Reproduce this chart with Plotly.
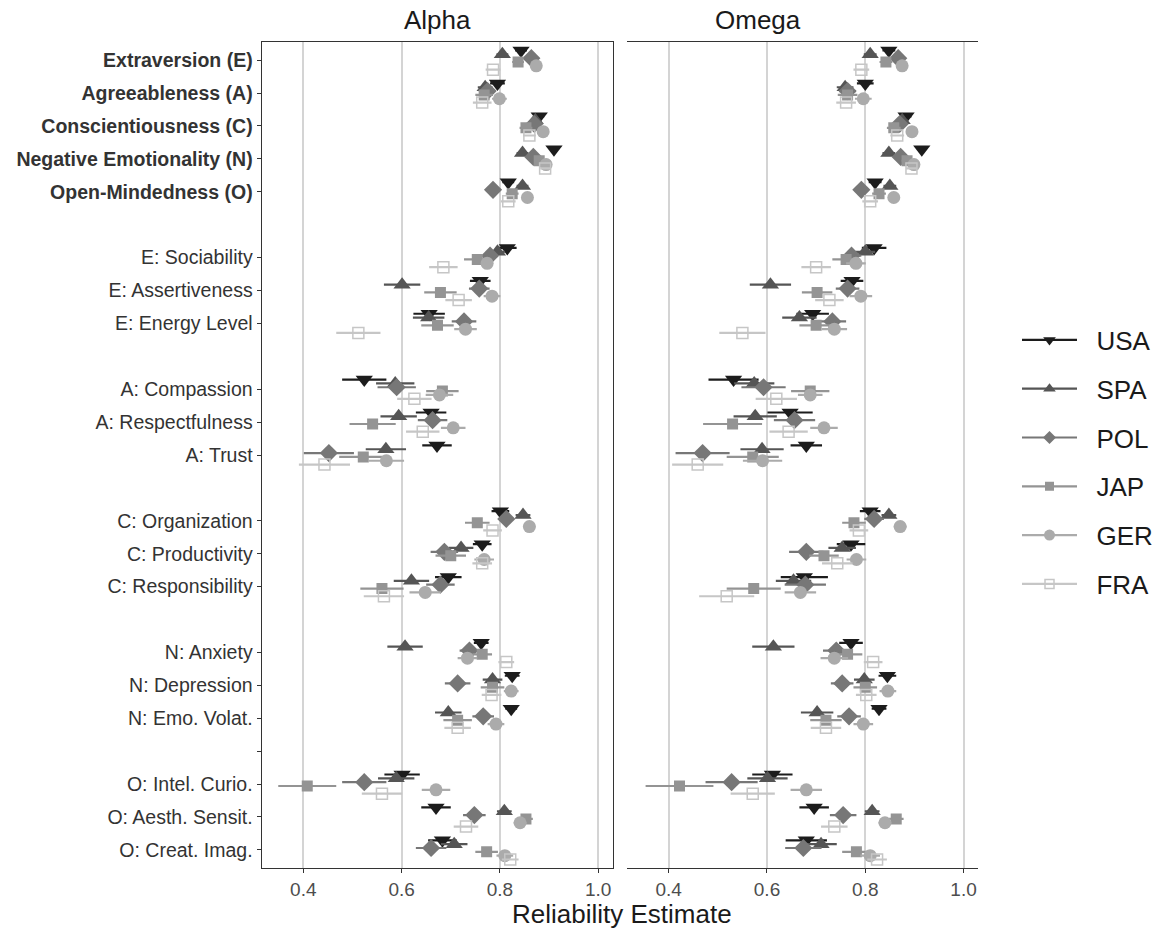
import plotly.graph_objects as go

countries = ["USA", "SPA", "POL", "JAP", "GER", "FRA"]
colors = ["#1c1c1c", "#555555", "#777777", "#949494", "#ababab", "#c6c6c6"]
symbols = ["triangle-down", "triangle-up", "diamond", "square", "circle", "square-open"]
sizes = [15, 15, 14, 11, 13, 11]

domain_labels = ["Extraversion (E)", "Agreeableness (A)", "Conscientiousness (C)",
                 "Negative Emotionality (N)", "Open-Mindedness (O)"]
facet_groups = [
    ["E: Sociability", "E: Assertiveness", "E: Energy Level"],
    ["A: Compassion", "A: Respectfulness", "A: Trust"],
    ["C: Organization", "C: Productivity", "C: Responsibility"],
    ["N: Anxiety", "N: Depression", "N: Emo. Volat."],
    ["O: Intel. Curio.", "O: Aesth. Sensit.", "O: Creat. Imag."],
]

# order of items: 5 domains, then 15 facets
alpha_est = {
    "USA": [0.843, 0.795, 0.880, 0.910, 0.817, 0.815, 0.760, 0.656, 0.524, 0.660, 0.672, 0.801, 0.764, 0.695, 0.762, 0.825, 0.823, 0.601, 0.670, 0.683],
    "SPA": [0.805, 0.770, 0.872, 0.846, 0.846, 0.795, 0.601, 0.655, 0.587, 0.594, 0.568, 0.847, 0.721, 0.620, 0.607, 0.785, 0.695, 0.589, 0.809, 0.707],
    "POL": [0.864, 0.775, 0.870, 0.868, 0.786, 0.780, 0.758, 0.727, 0.590, 0.663, 0.452, 0.813, 0.687, 0.679, 0.738, 0.714, 0.766, 0.524, 0.748, 0.660],
    "JAP": [0.837, 0.768, 0.853, 0.880, 0.825, 0.754, 0.679, 0.673, 0.683, 0.541, 0.522, 0.754, 0.700, 0.560, 0.764, 0.785, 0.714, 0.408, 0.853, 0.773],
    "GER": [0.874, 0.799, 0.888, 0.894, 0.856, 0.774, 0.784, 0.730, 0.677, 0.705, 0.569, 0.860, 0.768, 0.648, 0.734, 0.823, 0.792, 0.670, 0.841, 0.810],
    "FRA": [0.786, 0.764, 0.860, 0.892, 0.817, 0.685, 0.716, 0.512, 0.626, 0.643, 0.443, 0.785, 0.764, 0.564, 0.813, 0.783, 0.714, 0.560, 0.731, 0.821],
}
alpha_err = {
    "USA": [0.012, 0.015, 0.010, 0.008, 0.012, 0.019, 0.021, 0.032, 0.045, 0.031, 0.030, 0.018, 0.019, 0.027, 0.015, 0.015, 0.012, 0.036, 0.030, 0.029],
    "SPA": [0.012, 0.015, 0.010, 0.012, 0.012, 0.015, 0.037, 0.032, 0.039, 0.037, 0.041, 0.015, 0.025, 0.036, 0.036, 0.020, 0.027, 0.037, 0.015, 0.027],
    "POL": [0.010, 0.015, 0.010, 0.010, 0.012, 0.015, 0.021, 0.025, 0.039, 0.030, 0.051, 0.015, 0.028, 0.029, 0.020, 0.026, 0.022, 0.045, 0.023, 0.031],
    "JAP": [0.012, 0.018, 0.013, 0.010, 0.013, 0.027, 0.033, 0.033, 0.033, 0.047, 0.049, 0.025, 0.031, 0.044, 0.020, 0.024, 0.029, 0.059, 0.014, 0.023],
    "GER": [0.010, 0.015, 0.009, 0.009, 0.010, 0.012, 0.017, 0.023, 0.028, 0.025, 0.036, 0.012, 0.020, 0.032, 0.020, 0.015, 0.017, 0.029, 0.013, 0.017],
    "FRA": [0.015, 0.019, 0.013, 0.010, 0.015, 0.029, 0.027, 0.045, 0.035, 0.034, 0.052, 0.019, 0.020, 0.041, 0.016, 0.020, 0.027, 0.041, 0.025, 0.017],
}
omega_est = {
    "USA": [0.848, 0.800, 0.883, 0.915, 0.820, 0.818, 0.773, 0.693, 0.532, 0.647, 0.680, 0.810, 0.771, 0.676, 0.771, 0.845, 0.828, 0.611, 0.696, 0.680],
    "SPA": [0.810, 0.759, 0.875, 0.848, 0.850, 0.800, 0.607, 0.666, 0.574, 0.576, 0.590, 0.848, 0.753, 0.654, 0.613, 0.798, 0.702, 0.601, 0.814, 0.710],
    "POL": [0.867, 0.764, 0.870, 0.872, 0.792, 0.772, 0.764, 0.733, 0.593, 0.656, 0.469, 0.818, 0.680, 0.678, 0.741, 0.753, 0.767, 0.528, 0.755, 0.674],
    "JAP": [0.842, 0.764, 0.858, 0.885, 0.828, 0.761, 0.702, 0.700, 0.688, 0.530, 0.571, 0.777, 0.716, 0.573, 0.764, 0.800, 0.720, 0.422, 0.863, 0.782],
    "GER": [0.875, 0.796, 0.895, 0.899, 0.858, 0.781, 0.791, 0.737, 0.688, 0.716, 0.591, 0.871, 0.782, 0.668, 0.737, 0.846, 0.796, 0.680, 0.840, 0.810],
    "FRA": [0.792, 0.761, 0.865, 0.894, 0.810, 0.700, 0.727, 0.550, 0.619, 0.644, 0.459, 0.787, 0.743, 0.518, 0.816, 0.802, 0.720, 0.571, 0.737, 0.824],
}
omega_err = {
    "USA": [0.013, 0.017, 0.011, 0.009, 0.013, 0.025, 0.023, 0.033, 0.051, 0.046, 0.032, 0.021, 0.029, 0.048, 0.024, 0.018, 0.015, 0.041, 0.030, 0.042],
    "SPA": [0.013, 0.017, 0.011, 0.013, 0.013, 0.020, 0.042, 0.035, 0.041, 0.044, 0.044, 0.015, 0.028, 0.036, 0.043, 0.021, 0.033, 0.041, 0.015, 0.032],
    "POL": [0.011, 0.017, 0.011, 0.011, 0.013, 0.020, 0.024, 0.028, 0.045, 0.042, 0.055, 0.020, 0.035, 0.042, 0.027, 0.023, 0.024, 0.053, 0.027, 0.037],
    "JAP": [0.013, 0.020, 0.014, 0.011, 0.014, 0.028, 0.031, 0.034, 0.039, 0.060, 0.053, 0.024, 0.030, 0.055, 0.030, 0.024, 0.032, 0.069, 0.015, 0.029],
    "GER": [0.011, 0.017, 0.010, 0.010, 0.011, 0.020, 0.023, 0.026, 0.025, 0.028, 0.040, 0.013, 0.020, 0.032, 0.028, 0.017, 0.020, 0.032, 0.013, 0.020],
    "FRA": [0.016, 0.020, 0.014, 0.011, 0.016, 0.030, 0.029, 0.047, 0.042, 0.039, 0.052, 0.019, 0.031, 0.056, 0.019, 0.021, 0.031, 0.045, 0.027, 0.020],
}
x_ticks = [0.4, 0.6, 0.8, 1.0]
x_tick_labels = ["0.4", "0.6", "0.8", "1.0"]

# build row layout (domains, then facet groups separated by blank rows)
row_labels = ["<b>%s</b>" % d for d in domain_labels]
item_rows = list(range(len(domain_labels)))
for g in facet_groups:
    row_labels.append("")
    for f in g:
        item_rows.append(len(row_labels))
        row_labels.append(f)
n_rows = len(row_labels)
tick_rows = [r for r, lab in enumerate(row_labels) if lab != ""] + [21]
tick_rows.sort()
tick_text = [row_labels[r] for r in tick_rows]

dodge = 0.7 / len(countries)
fig = go.Figure()
panels = [("x", "y", alpha_est, alpha_err), ("x2", "y", omega_est, omega_err)]
for xa, ya, est, err in panels:
    for k, c in enumerate(countries):
        ys = [r + (k - (len(countries) - 1) / 2) * dodge for r in item_rows]
        fig.add_trace(go.Scatter(
            x=est[c], y=ys, xaxis=xa, yaxis=ya, mode="markers",
            marker=dict(symbol=symbols[k], size=sizes[k], color=colors[k],
                        line=dict(width=1.5 if symbols[k].endswith("open") else 0, color=colors[k])),
            error_x=dict(type="data", array=err[c], width=0, thickness=2.2, color=colors[k]),
            showlegend=False, name=c))

leg_sizes = [11, 11, 10, 9, 11, 9]
for k, c in enumerate(countries):
    fig.add_trace(go.Scatter(
        x=[None], y=[None], mode="lines+markers", name="\u00a0\u00a0" + c, legendgroup=c,
        line=dict(color=colors[k], width=2.2),
        marker=dict(symbol=symbols[k], size=leg_sizes[k], color=colors[k],
                    line=dict(width=1.5 if symbols[k].endswith("open") else 0, color=colors[k]))))

W, H = 1158, 929
axis_common = dict(range=[0.315, 1.03], tickvals=x_ticks, ticktext=x_tick_labels,
                   showgrid=True, gridcolor="#d4d4d4", gridwidth=2, zeroline=False,
                   showline=True, mirror=True, linecolor="#333333", linewidth=1,
                   ticks="outside", ticklen=4, tickcolor="#333333",
                   tickfont=dict(size=19, color="#4d4d4d"))
fig.update_layout(
    width=W, height=H, margin=dict(l=0, r=0, t=0, b=0),
    paper_bgcolor="white", plot_bgcolor="white",
    font=dict(family="Liberation Sans, Arial, sans-serif"),
    xaxis=dict(domain=[262 / W, 614 / W], anchor="y", **axis_common),
    xaxis2=dict(domain=[628 / W, 980 / W], anchor="y2", **axis_common),
    yaxis=dict(domain=[1 - 868 / H, 1 - 42 / H], range=[n_rows - 0.45, -0.55],
               tickvals=tick_rows, ticktext=tick_text, showgrid=False, zeroline=False,
               showline=True, mirror=True, linecolor="#333333", linewidth=1,
               ticks="outside", ticklen=4, tickcolor="#333333",
               tickfont=dict(size=19.5, color="#333333")),
    yaxis2=dict(domain=[1 - 868 / H, 1 - 42 / H], matches="y", anchor="x2",
                showticklabels=False, showgrid=False, zeroline=False,
                showline=True, mirror=True, linecolor="#333333", linewidth=1),
    legend=dict(x=1019 / W, y=1 - 462 / H, xanchor="left", yanchor="middle",
                font=dict(size=26, color="#1a1a1a"), tracegroupgap=12, itemwidth=55,
                bgcolor="rgba(0,0,0,0)"),
    annotations=[
        dict(text="Alpha", x=(262 + 614) / 2 / W, y=1 - 20 / H, xref="paper", yref="paper",
             yanchor="middle", showarrow=False, font=dict(size=26, color="#1a1a1a")),
        dict(text="Omega", x=(628 + 980) / 2 / W, y=1 - 20 / H, xref="paper", yref="paper",
             yanchor="middle", showarrow=False, font=dict(size=26, color="#1a1a1a")),
        dict(text="Reliability Estimate", x=623 / W, y=1 - 914 / H, xref="paper", yref="paper",
             yanchor="middle", showarrow=False, font=dict(size=26, color="#1a1a1a")),
    ],
)
fig.write_html("out.html")
